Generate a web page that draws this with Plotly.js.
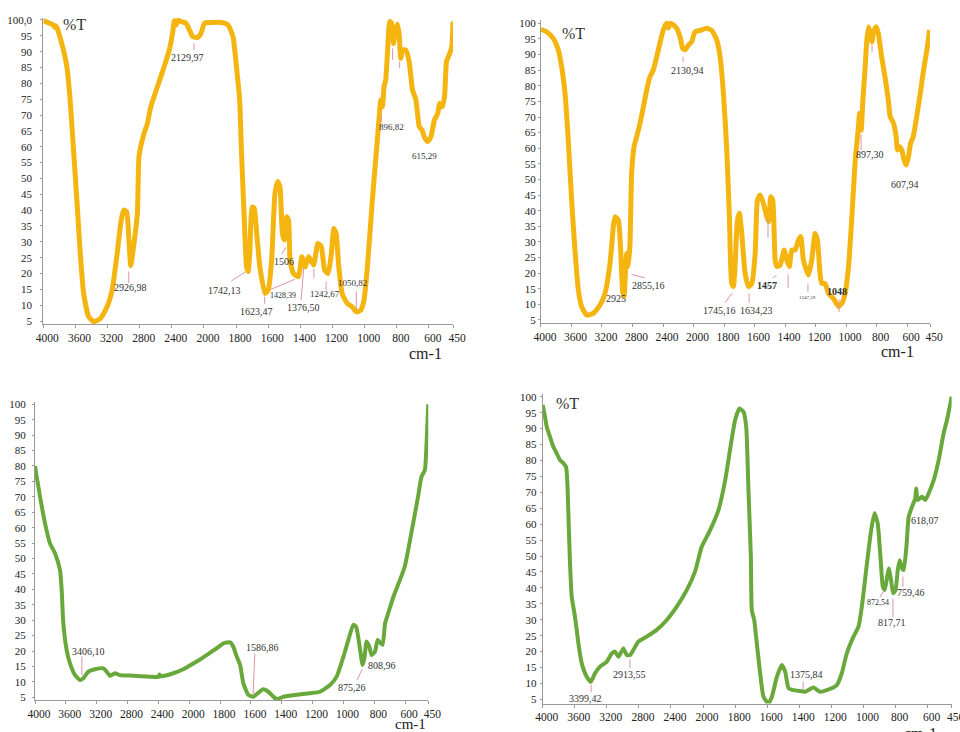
<!DOCTYPE html>
<html><head><meta charset="utf-8">
<script src="https://cdn.plot.ly/plotly-3.0.1.min.js"></script>
<style>html,body{margin:0;padding:0;background:#fff}#chart{width:960px;height:732px}</style>
</head><body><div id="chart"></div>
<script>
// ---- tick labels ----
const tickWn = [4000,3600,3200,2800,2400,2000,1800,1600,1400,1200,1000,800,600,450];
const tickLabels = tickWn.map(String);
const yTicks = [5,10,15,20,25,30,35,40,45,50,55,60,65,70,75,80,85,90,95,100];
const yLabels1 = yTicks.map(v => v === 100 ? '100,0' : String(v));
const yLabels = yTicks.map(String);

// ---- spectrum 1 (top left) ----
const wn1 = [4000,3875,3855,3845,3830,3812,3749,3707,3666,3624,3582,3540,3498,3436,3373,3289,3206,3143,3080,3030,2997,2963,2934,2912,2890,2871,2850,2829,2809,2788,2746,2704,2662,2579,2495,2432,2391,2369,2348,2320,2287,2224,2181,2139,2077,2036,1997,1956,1893,1850,1819,1798,1778,1767,1750,1735,1725,1715,1700,1687,1672,1652,1620,1600,1579,1558,1541,1527,1512,1499,1485,1474,1464,1443,1412,1391,1370,1349,1318,1291,1270,1249,1228,1207,1192,1178,1161,1140,1109,1078,1052,1025,1004,983,952,921,899,889,879,869,857,844,832,821,811,797,786,775,764,744,723,702,681,660,643,629,608,587,566,545,534,517,503,490,470,458,450];
const t1  = [99.8,98.4,97.6,98.2,97.6,96.3,90.5,85.3,74.8,59,43.2,26.4,13.7,6.4,4.8,5.8,9.5,14.8,26.4,36.9,40,39.5,30.6,22.5,26,29.5,33.7,39,56.9,60,64.2,67.4,72.6,79,85.3,90.5,95.8,99.8,98.4,100,99.5,99,96.8,94.7,94.5,95.8,99,99.2,99.2,98.4,94.7,85.3,74.8,59,38,22.1,20.6,26.4,41,40.6,32.7,22.1,13.7,14.8,24.2,45.3,49,47.4,32.7,30.6,37.9,36.9,24.2,20,19,25.3,22.1,25.3,22.7,29.5,28.5,21.1,20,26.4,34.2,32.7,22.1,13.7,10.6,9.5,7.9,8.4,11.6,22.1,43.2,62.1,74.8,72.6,79,81,90.5,99.5,99,92.6,95.8,98.7,95.8,87.9,90.5,90.5,86.8,77.9,74.8,66.3,65.3,63.2,61.6,63.2,68.4,70.5,73.7,72.6,75.8,87,89.5,91.5,99.5];

// ---- spectrum 2 (top right) ----
const wn2 = [4000,3926,3839,3773,3729,3685,3642,3598,3554,3510,3467,3401,3314,3226,3161,3095,3051,3029,2986,2955,2929,2911,2893,2876,2855,2833,2811,2780,2745,2701,2657,2614,2571,2527,2461,2396,2352,2330,2308,2265,2221,2177,2142,2112,2068,2024,1990,1957,1913,1880,1848,1826,1804,1782,1765,1750,1739,1728,1712,1699,1684,1662,1640,1618,1596,1581,1564,1542,1520,1507,1494,1481,1465,1454,1432,1406,1389,1372,1356,1334,1312,1297,1280,1247,1225,1203,1188,1171,1160,1138,1116,1083,1050,1028,1006,984,962,940,919,912,901,890,875,864,853,842,831,820,803,789,767,745,723,711,689,672,663,650,635,620,606,591,577,560,537,514,492,470,453];
const t2  = [98.1,97.3,95.2,91.5,86.1,77.6,62.6,43.4,27.4,14.6,9.3,6.6,7.1,9.8,13.5,23.1,34.9,38.1,37,27.4,14,12.5,20,26.3,22.1,29.5,52,60.5,63.7,68,73.3,78.6,82.9,85.1,91.5,97.9,100,98.5,100,99.5,98.4,95.7,92,91.5,93,94.1,97.3,97.7,98.4,97.7,94.7,89.3,77.6,59.4,38.1,16.7,15.7,22.1,37,39.2,32.7,20,15.7,16.7,26.3,43.4,45,42.4,38.1,36.5,44.5,43.4,24.2,22.1,22.6,27.4,24.2,22.1,27.4,27.4,30.6,31.7,24.2,19.4,24.2,32.7,30.6,20,16.7,16.7,13.5,11.9,9.3,10.3,13.5,22.1,38.1,56.2,66.9,71.2,65.8,75.4,86.1,94.7,98.9,96.8,94.1,97.3,98.9,96.8,89.3,82.9,75.4,70.1,68,63.7,59.4,60.5,59.4,56.2,54.6,57.3,61.6,63.7,70.1,77.6,85.1,91.5,97.9];

// ---- spectrum 3 (bottom left) ----
const wn3 = [4000,3978,3935,3870,3806,3741,3676,3654,3633,3590,3546,3481,3416,3373,3308,3222,3114,3071,3028,2963,2898,2725,2509,2400,2385,2370,2336,2207,2077,1952,1887,1822,1778,1735,1714,1692,1670,1649,1617,1584,1551,1519,1487,1454,1432,1389,1303,1218,1152,1087,1044,1000,968,936,918,892,876,864,850,832,818,796,778,764,746,730,710,676,634,602,580,548,516,494,472,460,450];
const t3  = [80,76.5,70.1,61.4,54.9,51.7,46.3,39.8,29,20.4,16,12.2,10.6,11.2,13.3,14.1,14.4,13.3,12,12.8,12.2,12,11.7,11.6,12.4,11.8,11.9,12.8,14.1,16.6,18.7,20.9,22.5,22.8,21.4,18.2,15.5,9.5,5.8,5.2,6.5,7.6,6.8,5.2,4.4,5.2,5.8,6.3,6.8,9,11.7,18.2,23.6,28.5,27.9,20.4,15.5,17.7,23.1,21.4,18.7,19.8,23.6,22.8,22,29,32.2,37.6,43,47.4,52.8,61.4,70.1,76.5,78.7,88.4,100];

// ---- spectrum 4 (bottom right) ----
const wn4 = [4000,3971,3950,3909,3867,3825,3784,3742,3709,3692,3676,3659,3638,3597,3555,3513,3451,3401,3347,3285,3202,3139,3098,3056,2993,2952,2911,2869,2807,2703,2578,2453,2328,2204,2100,2017,1956,1904,1862,1832,1800,1773,1748,1731,1717,1702,1696,1681,1665,1644,1623,1592,1571,1540,1509,1488,1467,1436,1395,1364,1312,1270,1229,1166,1135,1104,1062,1031,1010,978,952,931,911,894,879,867,852,842,828,815,800,786,774,759,749,732,718,697,677,671,662,635,614,593,562,531,500,479,458,450];
const t4  = [97.4,93.7,90.6,87.4,84.3,82.2,80.1,79.1,78,72.8,60.2,47.7,37.2,30.9,22.6,16.3,12.1,10.5,13.2,15.3,16.8,19.4,20,18.4,21,18.9,18.9,20.5,23.1,24.7,26.8,29.9,34.1,39.3,45.1,52.9,58.1,64.4,73.8,83.3,92.7,96.3,95.3,90.6,70.7,49.8,33,29.9,22.6,13.2,5.8,3.7,5.8,12.1,15.8,13.7,8.5,7.9,7.6,7.4,8.7,7.4,7.9,9.5,13.2,19.4,24.7,27.8,34.1,47.7,58.1,63.4,60.2,49.8,40.4,39.3,43.5,46.1,42.5,38.3,39.3,45.6,48.7,46.1,45.6,52.9,62.3,65.5,68.1,71.2,67.6,68.6,67.6,69.7,73.8,80.1,88.5,92.7,97.9,100];

// ---- axis transform: 400 cm-1 per division above 2000, 200 below ----
function toPos(w){ return w >= 2000 ? (4000 - w) / 400 : 5 + (2000 - w) / 200; }

const YEL = '#F5B511', GRN = '#69A83B';
const FONT = 'Liberation Serif, Times New Roman, serif';
const xid = n => n === 1 ? 'x' : 'x' + n;
const yid = n => n === 1 ? 'y' : 'y' + n;

function trace(wn, t, n, color, width){
  return {x: wn.map(toPos), y: t, xaxis: xid(n), yaxis: yid(n), type:'scatter', mode:'lines',
          line:{color: color, width: width, shape:'spline', smoothing:0.5}, hoverinfo:'skip', showlegend:false};
}

function xax(dom, anchor){
  return {domain: dom, range:[0,12.75], anchor: anchor, tickvals: tickWn.map(toPos), ticktext: tickLabels,
          showgrid:false, zeroline:false, showline:true, linecolor:'#9a9a9a', linewidth:1, ticks:'outside',
          ticklen:3, tickcolor:'#9a9a9a', ticklabelshift:4, ticklabeloverflow:'allow',
          tickfont:{family:FONT, size:11.5, color:'#222'}, fixedrange:true};
}
function yax(dom, range, anchor, labels, standoff){
  return {domain: dom, range: range, anchor: anchor, tickvals: yTicks, ticktext: labels,
          showgrid:false, zeroline:false, showline:true, linecolor:'#9a9a9a', linewidth:1, ticks:'outside',
          ticklen:2, tickcolor:'#9a9a9a', ticklabelstandoff: standoff, tickfont:{family:FONT, size:11, color:'#222'}, fixedrange:true};
}

function lbl(n, w, t, text, size, bold){
  return {xref: xid(n), yref: yid(n), x: toPos(w), y: t, text: bold ? '<b>'+text+'</b>' : text, showarrow:false,
          xanchor:'center', yanchor:'middle', font:{family:FONT, size: size || 10, color:'#333'}};
}
// unit label below an axis, y given as a fraction of the plot height
function unitLbl(n, w, frac, size){
  return {xref: xid(n), yref: yid(n) + ' domain', x: toPos(w), y: frac, text:'cm-1', showarrow:false,
          xanchor:'center', yanchor:'middle', font:{family:FONT, size: size || 16, color:'#222'}};
}
function lead(n, w1, v1, w2, v2){
  const xr = xid(n), yr = yid(n);
  return {xref:xr, yref:yr, axref:xr, ayref:yr, x: toPos(w2), y: v2, ax: toPos(w1), ay: v1, text:'',
          showarrow:true, arrowhead:0, arrowwidth:1, arrowcolor:'#dc95a0', standoff:0, startstandoff:0};
}

const ann = [
  // panel 1
  lbl(1, 3612, 98.6, '%T', 16),
  unitLbl(1, 620, -0.095),
  lbl(1, 2912, 15.7, '2926,98'), lead(1, 2936, 21.1, 2936, 17.0),
  lbl(1, 2200, 88.3, '2129,97'), lead(1, 2124, 93.1, 2124, 90.5),
  lbl(1, 1872, 14.5, '1742,13'), lead(1, 1734, 20.8, 1830, 17.6),
  lbl(1, 1672, 8.1, '1623,47'), lead(1, 1622, 13.2, 1622, 10.4),
  lbl(1, 1504, 23.9, '1506'), lead(1, 1486, 28.7, 1516, 26.1),
  lbl(1, 1510, 13.2, '1428,39', 8), lead(1, 1592, 14.8, 1434, 18.2),
  lbl(1, 1378, 9.4, '1376,50'), lead(1, 1378, 22.3, 1396, 11.6),
  lead(1, 1316, 22, 1316, 18.6),
  lbl(1, 1246, 13.5, '1242,67', 9), lead(1, 1240, 17.9, 1240, 14.8),
  lbl(1, 1078, 17, '1050,82', 9), lead(1, 1052, 14.8, 1052, 8.5),
  lbl(1, 832, 66.2, '896,82', 9), lead(1, 896, 70.6, 896, 67.8),
  lbl(1, 626, 57.1, '615,29', 9),
  lead(1, 826, 91.5, 826, 87.4), lead(1, 782, 87.4, 782, 84.8),
  // panel 2
  lbl(2, 3580, 96.6, '%T', 16),
  unitLbl(2, 666, -0.093),
  lbl(2, 2085, 85, '2130,94'), lead(2, 2137, 89.9, 2137, 87.6),
  lbl(2, 3016, 11.8, '2925'),
  lbl(2, 2584, 15.9, '2855,16'), lead(2, 2832, 19.7, 2636, 18.5),
  lbl(2, 1832, 7.9, '1745,16'), lead(2, 1740, 14, 1794, 10.5),
  lbl(2, 1584, 7.9, '1634,23'), lead(2, 1636, 14, 1636, 10.5),
  lbl(2, 1518, 15.9, '1457', 10, true), lead(2, 1446, 19.7, 1478, 18.5),
  lead(2, 1512, 38, 1512, 31.3), lead(2, 1380, 20, 1380, 15.2),
  lbl(2, 1250, 12.1, '1247,59', 5), lead(2, 1250, 17.2, 1250, 14),
  lbl(2, 1060, 14, '1048', 10, true), lead(2, 1046, 12.1, 1046, 7.6),
  lbl(2, 842, 57.9, '897,30'), lead(2, 902, 64.9, 902, 59.4),
  lbl(2, 614, 48.3, '607,94'),
  lead(2, 830, 93.7, 830, 90.8),
  // panel 3
  unitLbl(3, 568, -0.079, 15),
  lbl(3, 3312, 20, '3406,10'), lead(3, 3392, 18.7, 3392, 12.2),
  lbl(3, 1528, 21.3, '1586,86'), lead(3, 1574, 19.7, 1586, 5.8),
  lbl(3, 944, 8.3, '875,26'), lead(3, 874, 14.5, 912, 10.6),
  lbl(3, 750, 15.2, '808,96'),
  // panel 4
  lbl(4, 3696, 98, '%T', 16),
  unitLbl(4, 646, -0.098),
  lbl(4, 3472, 5.4, '3399,42'), lead(4, 3396, 10.1, 3396, 7.3),
  lbl(4, 2912, 12.9, '2913,55'), lead(4, 2912, 18, 2912, 14.8),
  lbl(4, 1352, 12.9, '1375,84'), lead(4, 1376, 11.1, 1376, 7.9),
  lbl(4, 908, 35.4, '872,54', 8), lead(4, 872, 39.3, 896, 37.1),
  lbl(4, 822, 29, '817,71'), lead(4, 816, 37.1, 816, 30.8),
  lbl(4, 704, 38.7, '759,46'), lead(4, 754, 44, 754, 40.3),
  lbl(4, 616, 61, '618,07')
];

const data = [
  trace(wn1, t1, 1, YEL, 5),
  trace(wn2, t2, 2, YEL, 5),
  trace(wn3, t3, 3, GRN, 4),
  trace(wn4, t4, 4, GRN, 4)
];

const layout = {
  width: 960, height: 732, margin:{l:0, r:0, t:0, b:0}, paper_bgcolor:'#fff', plot_bgcolor:'rgba(0,0,0,0)',
  showlegend:false,
  xaxis:  xax([0.0451, 0.4719], 'y'),
  yaxis:  yax([0.5571, 0.9753], [4, 100.6], 'x', yLabels1, 6),
  xaxis2: xax([0.5635, 0.96875], 'y2'),
  yaxis2: yax([0.5586, 0.9724], [4, 101], 'x2', yLabels, 0),
  xaxis3: xax([0.03646, 0.4461], 'y3'),
  yaxis3: yax([0.0436, 0.4511], [4.1, 100.8], 'x3', yLabels, 4),
  xaxis4: xax([0.5653, 0.9913], 'y4'),
  yaxis4: yax([0.0389, 0.4624], [3.7, 101], 'x4', yLabels, 1),
  annotations: ann
};

Plotly.newPlot('chart', data, layout, {displayModeBar:false, staticPlot:true});
</script>
</body></html>
